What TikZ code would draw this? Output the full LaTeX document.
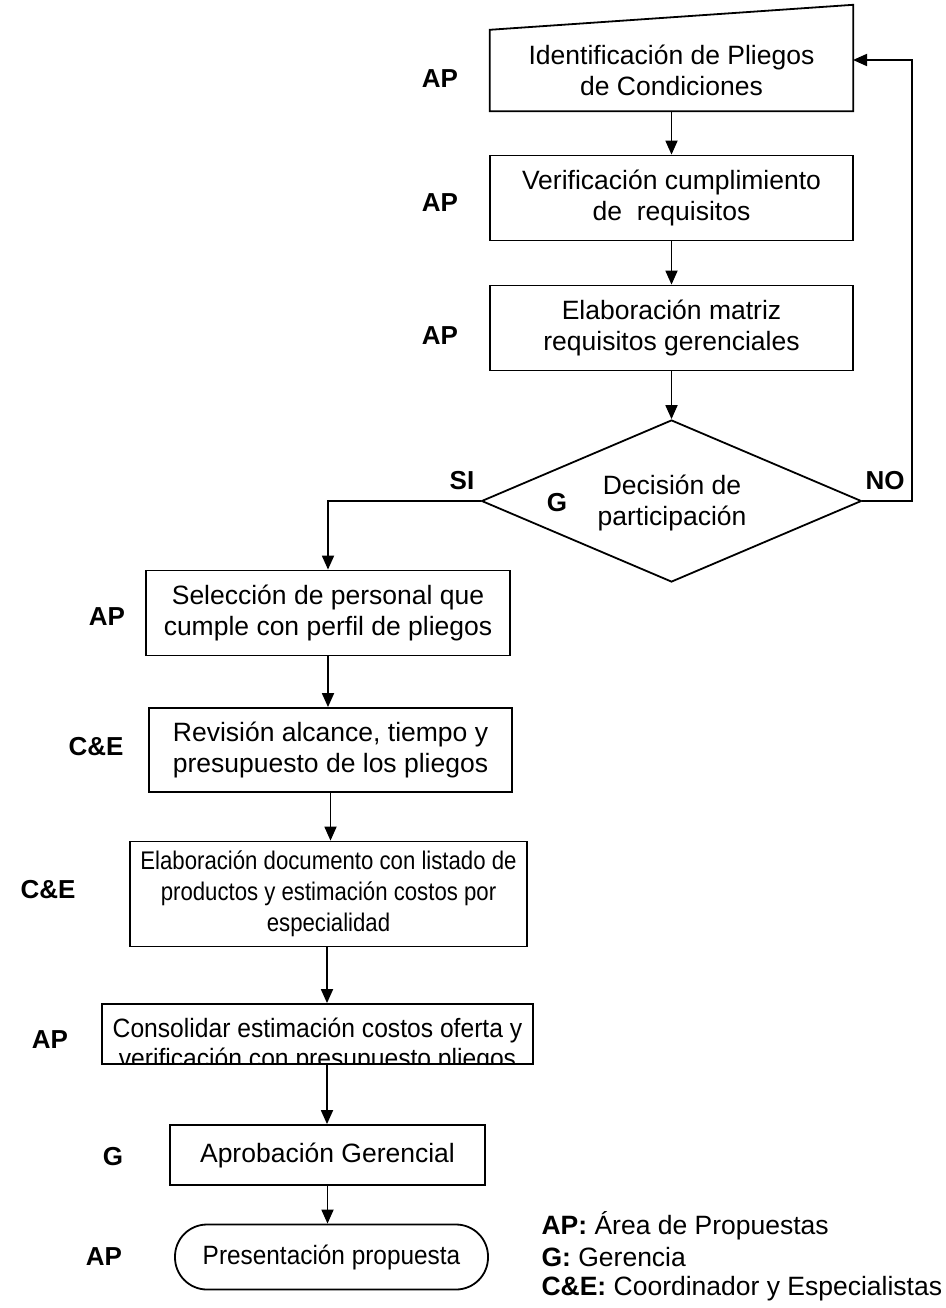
\documentclass[tikz,border=0pt]{standalone}
\usepackage{fontspec}
\setmainfont{Liberation Sans}
\newfontfamily\elafont{Liberation Sans}[FakeStretch=0.87]
\newfontfamily\confont{Liberation Sans}[FakeStretch=0.93]
\newfontfamily\prefont{Liberation Sans}[FakeStretch=0.92]
\usetikzlibrary{arrows.meta,shapes.geometric}
\begin{document}
\begin{tikzpicture}[x=1pt,y=-1pt,
  txt/.style={font=\fontsize{26.5}{30.5}\selectfont},
  proc/.style={txt,draw,line width=1.8pt,align=center,inner sep=0pt},
  lab/.style={font=\fontsize{26}{30}\selectfont\bfseries},
  arr/.style={line width=1.8pt,-{Triangle[length=14pt,width=12pt]}},
  ln/.style={line width=1.8pt}]
\useasboundingbox (0,0) rectangle (945,1308);
% box 1 (manual input)
\node[txt,minimum width=363pt,minimum height=81pt,inner sep=0pt,align=center] (b1) at (671.5,70.5) {Identificación de Pliegos\\de Condiciones};
\draw[ln] (b1.south west) -- (b1.north west) -- ([yshift=25pt]b1.north east) -- (b1.south east) -- cycle;
\node[lab] (l1) at (440,79) {AP};
\node[proc,minimum width=363pt,minimum height=85pt] (b2) at (671.5,198) {Verificación cumplimiento\\de\ \ requisitos};
\node[lab] (l2) at (440,203) {AP};
\node[proc,minimum width=363pt,minimum height=85pt] (b3) at (671.5,328) {Elaboración matriz\\requisitos gerenciales};
\node[lab] (l3) at (440,336) {AP};
\node[draw,line width=1.8pt,diamond,minimum width=380pt,minimum height=162pt,inner sep=0pt] (dec) at (671.5,501) {};
\node[txt,align=center] (dect) at (672,503) {Decisión de\\participación};
\node[lab] (lg) at (557,503) {G};
\node[lab] (no) at (885,481) {NO};
\node[lab] (si) at (462,481) {SI};
% left column
\node[proc,minimum width=364pt,minimum height=85pt] (sel) at (328,613) {Selección de personal que\\cumple con perfil de pliegos};
\node[lab] (l4) at (107,617) {AP};
\node[proc,minimum width=363pt,minimum height=84pt] (rev) at (330.5,750) {Revisión alcance, tiempo y\\presupuesto de los pliegos};
\node[lab] (l5) at (96,747) {C\&E};
\node[proc,minimum width=397pt,minimum height=105pt,font=\fontsize{25.5}{31}\elafont] (ela) at (328.5,894) {Elaboración documento con listado de\\productos y estimación costos por\\especialidad};
\node[lab] (l6) at (48,890) {C\&E};
\node[draw,line width=1.8pt,minimum width=431pt,minimum height=60pt,inner sep=0pt] (con) at (317.5,1034) {};
\begin{scope}
\clip ([xshift=2pt]con.south west) rectangle ([yshift=5pt]con.north east);
\node[txt,font=\fontsize{26.5}{30}\confont,align=center] (cont) at (317.5,1045) {Consolidar estimación costos oferta y\\verificación con presupuesto pliegos};
\end{scope}
\node[lab] (l7) at (50,1040) {AP};
\node[proc,minimum width=315pt,minimum height=60pt] (apr) at (327.5,1155) {Aprobación Gerencial};
\node[lab] (l8) at (113,1157) {G};
\node[draw,line width=1.8pt,minimum width=313pt,minimum height=65pt,rounded corners=32pt,inner sep=0pt,font=\fontsize{26.5}{30.5}\prefont] (pre) at (331.5,1257) {Presentación propuesta};
\node[lab] (l9) at (104,1257) {AP};
% legend
\node[txt,anchor=west] (lega) at (538,1226) {\textbf{AP:} Área de Propuestas};
\node[txt,anchor=west] (legb) at (538,1257) {\textbf{G:} Gerencia};
\node[txt,anchor=west] (legc) at (538,1289) {\textbf{C\&E:} Coordinador y Especialistas};
% connectors
\draw[arr] (b1.south) -- (b2.north);
\draw[arr] (b2.south) -- (b3.north);
\draw[arr] (b3.south) -- (dec.north);
\coordinate (noc) at (912,501);
\coordinate (b1in) at (853,60);
\draw[arr] (dec.east) -- (noc) |- (b1in);
\draw[arr] (dec.west) -| (sel.north);
\draw[arr] (sel.south) -- (sel.south |- rev.north);
\draw[arr] (rev.south) -- (rev.south |- ela.north);
\draw[arr] (ela.south -| 327,0) -- (con.north -| 327,0);
\draw[arr] (con.south -| 327,0) -- (apr.north -| 327,0);
\draw[arr] (apr.south) -- (apr.south |- pre.north);
\end{tikzpicture}
\end{document}
